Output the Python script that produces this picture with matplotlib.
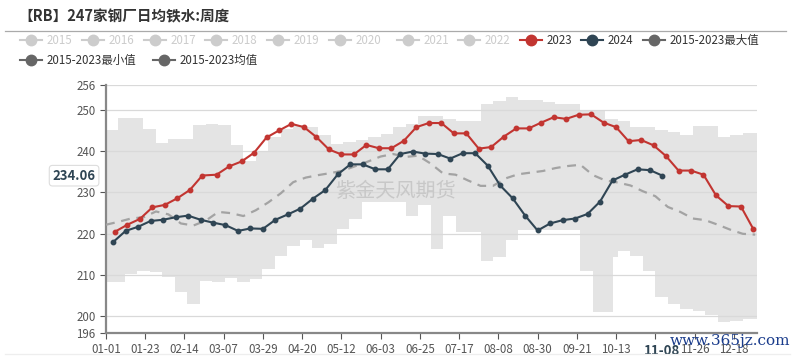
import numpy as np
import pandas as pd
import matplotlib
matplotlib.use("Agg")
import matplotlib.pyplot as plt
from matplotlib.lines import Line2D

plt.rcParams['font.family'] = ['Noto Sans CJK SC', 'DejaVu Sans']

# ---- data ----
title = "【RB】247家钢厂日均铁水:周度"

# 2023 weekly, starting 2023-01-06
start_2023 = "2023-01-06"
vals_2023 = [220.5, 222.2, 223.6, 226.4, 227.0, 228.6, 230.6, 234.1, 234.3, 236.3,
             237.5, 239.6, 243.3, 245.0, 246.6, 245.8, 243.4, 240.4, 239.2, 239.2,
             241.5, 240.7, 240.7, 242.5, 245.8, 246.8, 246.8, 244.3, 244.3, 240.6,
             241.0, 243.5, 245.5, 245.5, 246.9, 248.2, 247.8, 248.8, 248.9, 246.9,
             245.8, 242.4, 242.7, 241.4, 238.8, 235.3, 235.3, 234.3, 229.3, 226.7,
             226.6, 221.1]

# 2024 weekly, starting 2024-01-05
start_2024 = "2024-01-05"
vals_2024 = [218.0, 220.7, 221.7, 223.1, 223.4, 224.0, 224.4, 223.4, 222.7, 222.1,
             220.7, 221.3, 221.2, 223.4, 224.7, 226.1, 228.5, 230.6, 234.4, 236.8,
             236.8, 235.6, 235.6, 239.3, 239.9, 239.4, 239.3, 238.2, 239.5, 239.5,
             236.5, 231.7, 228.6, 224.4, 220.8, 222.5, 223.3, 223.7, 224.8, 227.8,
             232.9, 234.3, 235.6, 235.4, 234.06]

# 2015-2023 mean, one value every 7 days from 01-01
mean_vals = [222.2, 222.9, 223.7, 224.0, 225.4, 224.7, 222.5, 222.0, 223.2, 225.3,
             225.0, 224.3, 225.7, 227.6, 229.8, 232.5, 233.6, 234.2, 234.7, 235.3,
             236.4, 237.5, 238.7, 239.3, 238.6, 238.9, 237.0, 234.6, 234.3, 232.9,
             231.6, 231.6, 233.4, 234.4, 234.8, 235.2, 235.9, 236.4, 236.7, 234.2,
             232.9, 232.4, 231.7, 230.3, 229.1, 226.5, 225.3, 223.7, 223.3, 222.2,
             221.0, 220.0, 219.8]

# 2015-2023 max, weekly steps from 01-01
max_vals = [245.2, 248.1, 248.1, 245.3, 241.9, 243.0, 243.0, 246.4, 246.6, 246.3,
            241.5, 237.6, 239.7, 243.3, 245.4, 246.4, 245.8, 243.8, 241.8, 242.2,
            242.7, 243.5, 244.2, 245.8, 246.5, 248.4, 248.4, 247.8, 247.4, 247.4,
            251.5, 252.2, 253.1, 252.4, 252.4, 251.8, 251.5, 251.5, 249.6, 249.6,
            247.8, 247.4, 245.8, 245.8, 245.0, 244.6, 243.8, 246.0, 246.0, 243.4,
            243.8, 244.3, 244.3]

# 2015-2023 min, steps (start day of year, value)
min_days = [0, 10.5, 17.5, 24.5, 31.5, 38.5, 45.5, 52.5, 59.5, 66.5, 73.5, 80.5,
            87.5, 94.5, 101.5, 108.5, 115.5, 122.5, 129.5, 136.5, 143.5, 168, 175,
            182, 189, 196, 210, 217, 224, 231, 266, 273, 284, 287, 294, 301, 308,
            315, 322, 329, 336, 343, 350, 357]
min_vals = [208.3, 210.3, 211.1, 210.7, 209.6, 205.9, 203.1, 208.6, 208.3, 209.4,
            208.3, 209.1, 211.5, 214.6, 217.1, 218.6, 216.5, 217.5, 221.2, 223.6,
            227.8, 224.4, 227.0, 216.3, 224.4, 220.4, 213.5, 214.3, 218.6, 220.8,
            211.1, 201.0, 214.3, 215.9, 214.7, 211.1, 204.6, 203.0, 201.8, 201.4,
            200.4, 198.6, 199.0, 199.4]

y_ticks = [196, 200, 210, 220, 230, 240, 250, 256]

legend_names = ["2015", "2016", "2017", "2018", "2019", "2020", "2021", "2022",
                "2023", "2024", "2015-2023最大值", "2015-2023最小值", "2015-2023均值"]
legend_colors = ["#cccccc"] * 8 + ["#c23531", "#2f4554", "#666666", "#666666", "#666666"]
legend_text_colors = ["#cccccc"] * 8 + ["#333333"] * 5

pointer_value = "234.06"
pointer_date = "11-08"

# ---- helpers ----
base = pd.Timestamp("2024-01-01")


def day_index(start, n):
    # weekly dates mapped onto the 2024 month-day axis
    d = pd.date_range(start, periods=n, freq="7D")
    md = pd.to_datetime("2024-" + d.strftime("%m-%d"))
    return np.asarray((md - base).days, dtype=float)


x23 = day_index(start_2023, len(vals_2023))
x24 = day_index(start_2024, len(vals_2024))
x_mean = np.arange(len(mean_vals)) * 7.0
max_days = np.arange(len(max_vals)) * 7.0

# ---- figure ----
W, H = 794, 357
fig = plt.figure(figsize=(W / 100, H / 100), dpi=100)
L, R, T, B = 106, 757, 85, 333
ax = fig.add_axes([L / W, 1 - B / H, (R - L) / W, (B - T) / H])

# band between min and max
xs = np.unique(np.concatenate([max_days, min_days, [365.0]]))
up = np.asarray(max_vals)[np.searchsorted(max_days, xs, side="right") - 1]
lo = np.asarray(min_vals)[np.searchsorted(min_days, xs, side="right") - 1]
ax.fill_between(xs, lo, up, step="post", color="#e4e4e4", lw=0, zorder=1)

for v in y_ticks:
    ax.axhline(v, color="#d9d9d9", lw=0.9, zorder=2)

ax.plot(x_mean, mean_vals, color="#a3a3a3", lw=1.6, ls=(0, (4, 3)), zorder=3)

ax.plot(x23, vals_2023, color="#c23531", lw=1.5, marker="o", ms=3.2, zorder=4)
ax.plot(x24, vals_2024, color="#2f4554", lw=1.5, marker="o", ms=3.2, zorder=5)

ax.text(0.445, 0.57, "紫金天风期货", transform=ax.transAxes, fontsize=14.5,
        color="#c8c8c8", ha="center", va="center", zorder=6)

ax.set_xlim(0, 365)
ax.set_ylim(196, 256)
ax.set_yticks(y_ticks)
xt = np.arange(0, 365, 22)
ax.set_xticks(xt)
# the tick under the axis pointer label is covered by it
xlabels = [(base + pd.Timedelta(days=int(d))).strftime("%m-%d") for d in xt]
xlabels = ["" if abs(d - x24[-1]) < 11 else s for d, s in zip(xt, xlabels)]
ax.set_xticklabels(xlabels)
ax.tick_params(axis="both", labelsize=8.3, colors="#555555", length=4, width=0.8)
ax.tick_params(axis="x", pad=3)
for s in ["top", "right"]:
    ax.spines[s].set_visible(False)
ax.spines["left"].set_color("#888888")
ax.spines["left"].set_linewidth(1.6)
ax.spines["bottom"].set_color("#888888")
ax.spines["bottom"].set_linewidth(1.6)

# axis pointer labels
ax.text(-0.016, float(pointer_value), pointer_value, transform=ax.get_yaxis_transform(),
        ha="right", va="center", fontsize=9.5, fontweight="bold", color="#2f4554",
        bbox=dict(boxstyle="round,pad=0.25", fc="white", ec="#dddddd", lw=0.8), zorder=10)
ax.text(x24[-1], -0.045, pointer_date, transform=ax.get_xaxis_transform(),
        ha="center", va="top", fontsize=9.5, fontweight="bold", color="#2f4554",
        zorder=10, clip_on=False)

# title and separator
fig.text(18 / W, 1 - 16 / H, title, fontsize=10.5, fontweight="bold", color="#333333",
         ha="left", va="center")
fig.add_artist(Line2D([5 / W, 786 / W], [1 - 31 / H, 1 - 31 / H], color="#aaaaaa", lw=0.9))
fig.add_artist(Line2D([5 / W, 790 / W], [1 - 354 / H, 1 - 354 / H], color="#eeeeee", lw=0.9))

# legend (drawn by hand to keep echarts layout)
pos = [(31, 40), (93, 40), (155, 40), (216, 40), (278, 40), (340, 40), (408, 40),
       (469, 40), (531, 40), (592, 40), (654, 40), (31, 60), (164, 60)]
for (px, py), name, c, tc in zip(pos, legend_names, legend_colors, legend_text_colors):
    fy = 1 - py / H
    fig.add_artist(Line2D([(px - 11) / W, (px + 11) / W], [fy, fy], color=c, lw=1.5))
    fig.add_artist(Line2D([px / W], [fy], color=c, marker="o", ms=7.5, lw=0))
    fig.text((px + 16) / W, fy, name, fontsize=8.3, color=tc, ha="left", va="center")

# site watermark
fig.text(730 / W, 1 - 341 / H, "www.365jz.com", fontsize=11, color="#1a3c8c",
         family="DejaVu Serif", ha="center", va="center", zorder=20)

fig.savefig("out.png", dpi=100)
